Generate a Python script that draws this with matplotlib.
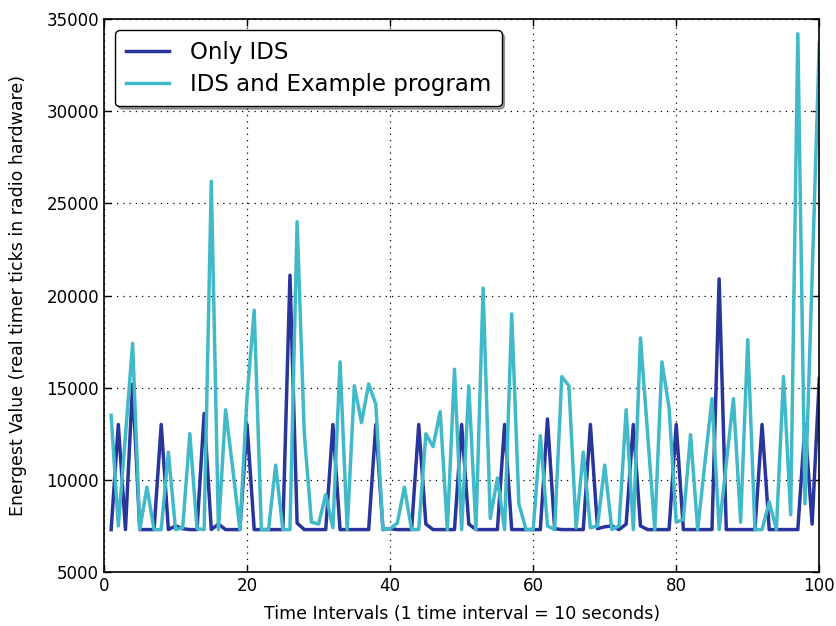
import matplotlib
matplotlib.use("Agg")
import matplotlib.pyplot as plt

x = list(range(1, 101))

only_ids = [7300, 13000, 7300, 15200, 7300, 7300, 7300, 13000, 7300, 7500,
            7350, 7300, 7300, 13600, 7300, 7600, 7300, 7300, 7300, 13000,
            7300, 7300, 7300, 7300, 7300, 21100, 7650, 7300, 7300, 7300,
            7300, 13000, 7300, 7300, 7300, 7300, 7300, 13000, 7300, 7350,
            7300, 7300, 7300, 13000, 7600, 7300, 7300, 7300, 7300, 13000,
            7600, 7300, 7300, 7300, 7300, 13000, 7300, 7300, 7300, 7300,
            7300, 13300, 7350, 7300, 7300, 7300, 7300, 13000, 7350, 7450,
            7500, 7300, 7600, 13000, 7500, 7300, 7300, 7300, 7300, 13000,
            7300, 7300, 7300, 7300, 7300, 20900, 7300, 7300, 7300, 7300,
            7300, 13000, 7300, 7300, 7300, 7300, 7300, 13000, 7600, 15500]

ids_example = [13500, 7500, 12400, 17400, 7300, 9600, 7300, 7300, 11500, 7300,
               7400, 12500, 7350, 7300, 26200, 7300, 13800, 10600, 7300, 14500,
               19200, 7300, 7300, 10800, 7300, 7300, 24000, 12500, 7700, 7600,
               9200, 7400, 16400, 7300, 15100, 13100, 15200, 14100, 7300, 7350,
               7650, 9600, 7300, 7300, 12500, 11800, 13700, 7300, 16000, 7300,
               15100, 7300, 20400, 7900, 10100, 7300, 19000, 8700, 7300, 7300,
               12400, 7500, 7300, 15600, 15100, 7400, 11500, 7400, 7500, 10800,
               7300, 7500, 13800, 7300, 17700, 12500, 7300, 16400, 13900, 7700,
               7850, 12450, 7300, 10900, 14400, 7300, 10900, 14400, 7700, 17600,
               7300, 7300, 8800, 7300, 15600, 8100, 34200, 8700, 21000, 33700]

labels = ["Only IDS", "IDS and Example program"]
colors = ["#29359a", "#42b9c9"]

fig = plt.figure(figsize=(8.36, 6.26), dpi=100)
ax = fig.add_axes([0.1244, 0.0863, 0.8556, 0.8833])

ax.plot(x, only_ids, color=colors[0], linewidth=2.5, label=labels[0])
ax.plot(x, ids_example, color=colors[1], linewidth=2.5, label=labels[1])

ax.set_xlim(0, 100)
ax.set_ylim(5000, 35000)
ax.set_xticks(range(0, 101, 20))
ax.set_yticks(range(5000, 35001, 5000))
ax.tick_params(direction="in", top=True, right=True, labelsize=12, length=5, width=1)
ax.grid(True, linestyle=(0, (1, 4)), color="k", linewidth=0.9)
for s in ax.spines.values():
    s.set_linewidth(1.2)

ax.set_xlabel("Time Intervals (1 time interval = 10 seconds)", fontsize=12.5, labelpad=7)
ax.set_ylabel("Energest Value (real timer ticks in radio hardware)", fontsize=12.5, labelpad=14)

leg = ax.legend(loc="upper left", fontsize=16.5, fancybox=True, shadow=True,
                framealpha=1, edgecolor="black", borderpad=0.45, handlelength=1.9,
                handletextpad=0.9, borderaxespad=0.5, labelspacing=0.4)
leg.get_frame().set_linewidth(1.0)

fig.savefig("out.png", dpi=100, facecolor="white")
